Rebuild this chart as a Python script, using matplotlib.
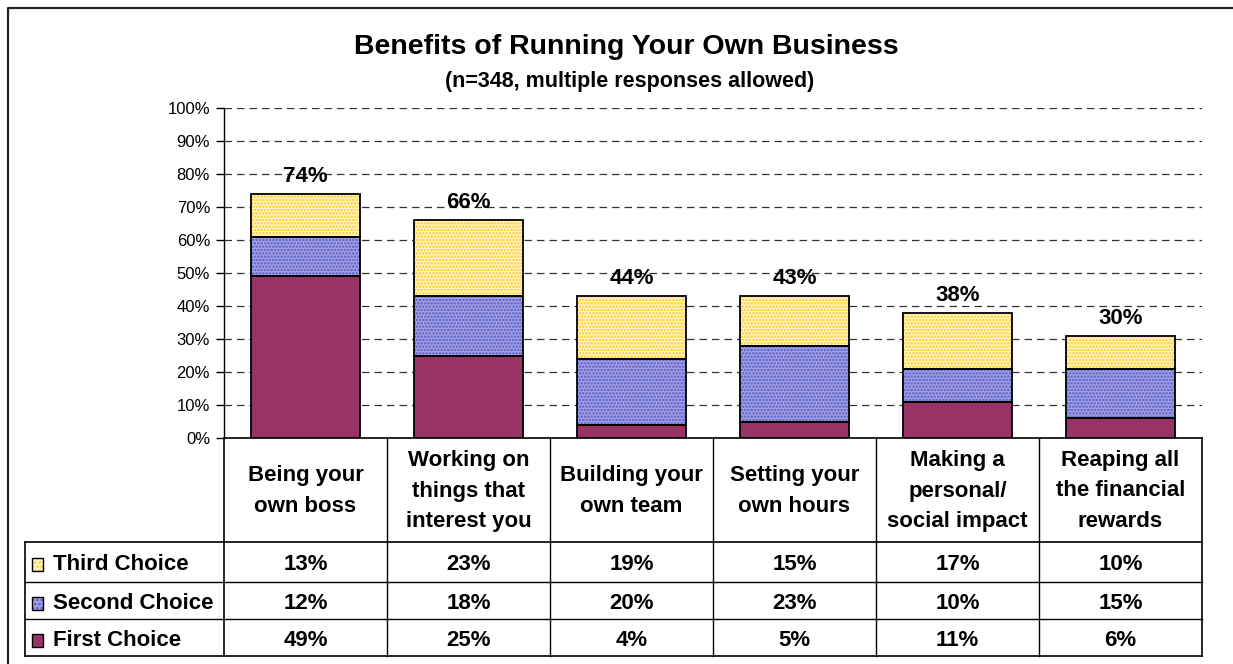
import matplotlib
matplotlib.use("Agg")
import matplotlib.pyplot as plt
import numpy as np

plt.rcParams["font.family"] = ["Liberation Sans", "DejaVu Sans"]
plt.rcParams["hatch.linewidth"] = 1.2

# ---------------------------------------------------------------------------
# Data
# ---------------------------------------------------------------------------
categories = [
    "Being your\nown boss",
    "Working on\nthings that\ninterest you",
    "Building your\nown team",
    "Setting your\nown hours",
    "Making a\npersonal/\nsocial impact",
    "Reaping all\nthe financial\nrewards",
]
first_choice = [49, 25, 4, 5, 11, 6]
second_choice = [12, 18, 20, 23, 10, 15]
third_choice = [13, 23, 19, 15, 17, 10]
totals = [74, 66, 44, 43, 38, 30]
yticks = [0, 10, 20, 30, 40, 50, 60, 70, 80, 90, 100]

# ---------------------------------------------------------------------------
# Layout (pixel based, figure is 1233 x 664)
# ---------------------------------------------------------------------------
W, H = 1233, 664
AX_L, AX_R, AX_T, AX_B = 224, 1202, 108, 438
TBL_L, TBL_TOP, TBL_BOT = 25, 542, 656
ROW_LINES = [542, 582, 619, 656]

FIRST_C = "#993366"
SECOND_FACE, SECOND_HATCH = "#A2A2EC", "#5858B8"
THIRD_FACE, THIRD_HATCH = "#FFF6C8", "#FFC81E"
GRID_C = "#333333"

fig = plt.figure(figsize=(W / 100, H / 100), dpi=100)
fig.patch.set_facecolor("white")

ax = fig.add_axes([AX_L / W, 1 - AX_B / H, (AX_R - AX_L) / W, (AX_B - AX_T) / H])
x = np.arange(len(categories))
first = np.array(first_choice)
second = np.array(second_choice)
third = np.array(third_choice)
bw = 0.667

layers = [
    (first, np.zeros_like(first), FIRST_C, FIRST_C, None),
    (second, first, SECOND_FACE, SECOND_HATCH, "....."),
    (third, first + second, THIRD_FACE, THIRD_HATCH, "....."),
]
for vals, bottom, face, hcol, hatch in layers:
    ax.bar(x, vals, bottom=bottom, width=bw, color=face, edgecolor=hcol,
           hatch=hatch, linewidth=0, zorder=3)
    ax.bar(x, vals, bottom=bottom, width=bw, fill=False, edgecolor="black",
           linewidth=1.3, zorder=4)

for xi, t, top in zip(x, totals, first + second + third):
    ax.annotate(f"{t}%", (xi, top), xytext=(0, 5), textcoords="offset points",
                ha="center", va="bottom", fontsize=16, fontweight="bold", zorder=5)

ax.set_xlim(-0.5, len(categories) - 0.5)
ax.set_ylim(0, 100)
ax.set_yticks(yticks)
ax.set_yticklabels([f"{v}%" for v in yticks], fontsize=12)
ax.set_xticks([])
ax.tick_params(axis="y", direction="out", length=6, width=1, pad=4)
for v in yticks[1:]:
    ax.axhline(v, color=GRID_C, linestyle=(0, (6, 4)), linewidth=0.9, zorder=1)
for side in ["top", "right"]:
    ax.spines[side].set_visible(False)
ax.spines["left"].set_linewidth(1.0)
ax.spines["bottom"].set_linewidth(1.2)

# ---------------------------------------------------------------------------
# Overlay: titles, data table, frame
# ---------------------------------------------------------------------------
ov = fig.add_axes([0, 0, 1, 1], zorder=10)
ov.set_xlim(0, W)
ov.set_ylim(H, 0)
ov.axis("off")
ov.patch.set_alpha(0)

# outer frame (left + top only visible)
ov.plot([8, 8, W + 5], [H + 5, 8, 8], color="#222222", linewidth=1.6)

ov.text(626, 47, "Benefits of Running Your Own Business",
        ha="center", va="center", fontsize=20.5, fontweight="bold")
ov.text(630, 81, "(n=348, multiple responses allowed)",
        ha="center", va="center", fontsize=15.5, fontweight="bold")

col_w = (AX_R - AX_L) / len(categories)
# category header cells
ov.plot([AX_R, AX_R], [AX_B, TBL_BOT], color="black", linewidth=1.2)
ov.plot([AX_L, AX_L], [AX_B, TBL_BOT], color="black", linewidth=1.2)
for i in range(1, len(categories)):
    xl = AX_L + i * col_w
    ov.plot([xl, xl], [AX_B, TBL_BOT], color="black", linewidth=1.0)
for k, yl in enumerate(ROW_LINES):
    ov.plot([TBL_L, AX_R], [yl, yl], color="black",
            linewidth=1.2 if k in (0, 3) else 1.0)
ov.plot([TBL_L, TBL_L], [TBL_TOP, TBL_BOT], color="black", linewidth=1.2)

for i, cat in enumerate(categories):
    ov.text(AX_L + (i + 0.5) * col_w, (AX_B + TBL_TOP) / 2 + 1, cat,
            ha="center", va="center", fontsize=16, fontweight="bold",
            linespacing=1.6)

rows = [
    ("Third Choice", third_choice, THIRD_FACE, THIRD_HATCH, "...."),
    ("Second Choice", second_choice, SECOND_FACE, SECOND_HATCH, "...."),
    ("First Choice", first_choice, FIRST_C, FIRST_C, None),
]
for r, (name, vals, face, hcol, hatch) in enumerate(rows):
    yc = (ROW_LINES[r] + ROW_LINES[r + 1]) / 2 + 3
    ov.add_patch(plt.Rectangle((32, yc - 7), 11, 13, facecolor=face,
                               edgecolor=hcol, hatch=hatch, linewidth=0))
    ov.add_patch(plt.Rectangle((32, yc - 7), 11, 13, fill=False,
                               edgecolor="black", linewidth=1.0))
    ov.text(53, yc, name, ha="left", va="center", fontsize=16,
            fontweight="bold")
    for i, v in enumerate(vals):
        ov.text(AX_L + (i + 0.5) * col_w, yc, f"{v}%", ha="center",
                va="center", fontsize=16, fontweight="bold")

fig.savefig("out.png", dpi=100, facecolor="white")
